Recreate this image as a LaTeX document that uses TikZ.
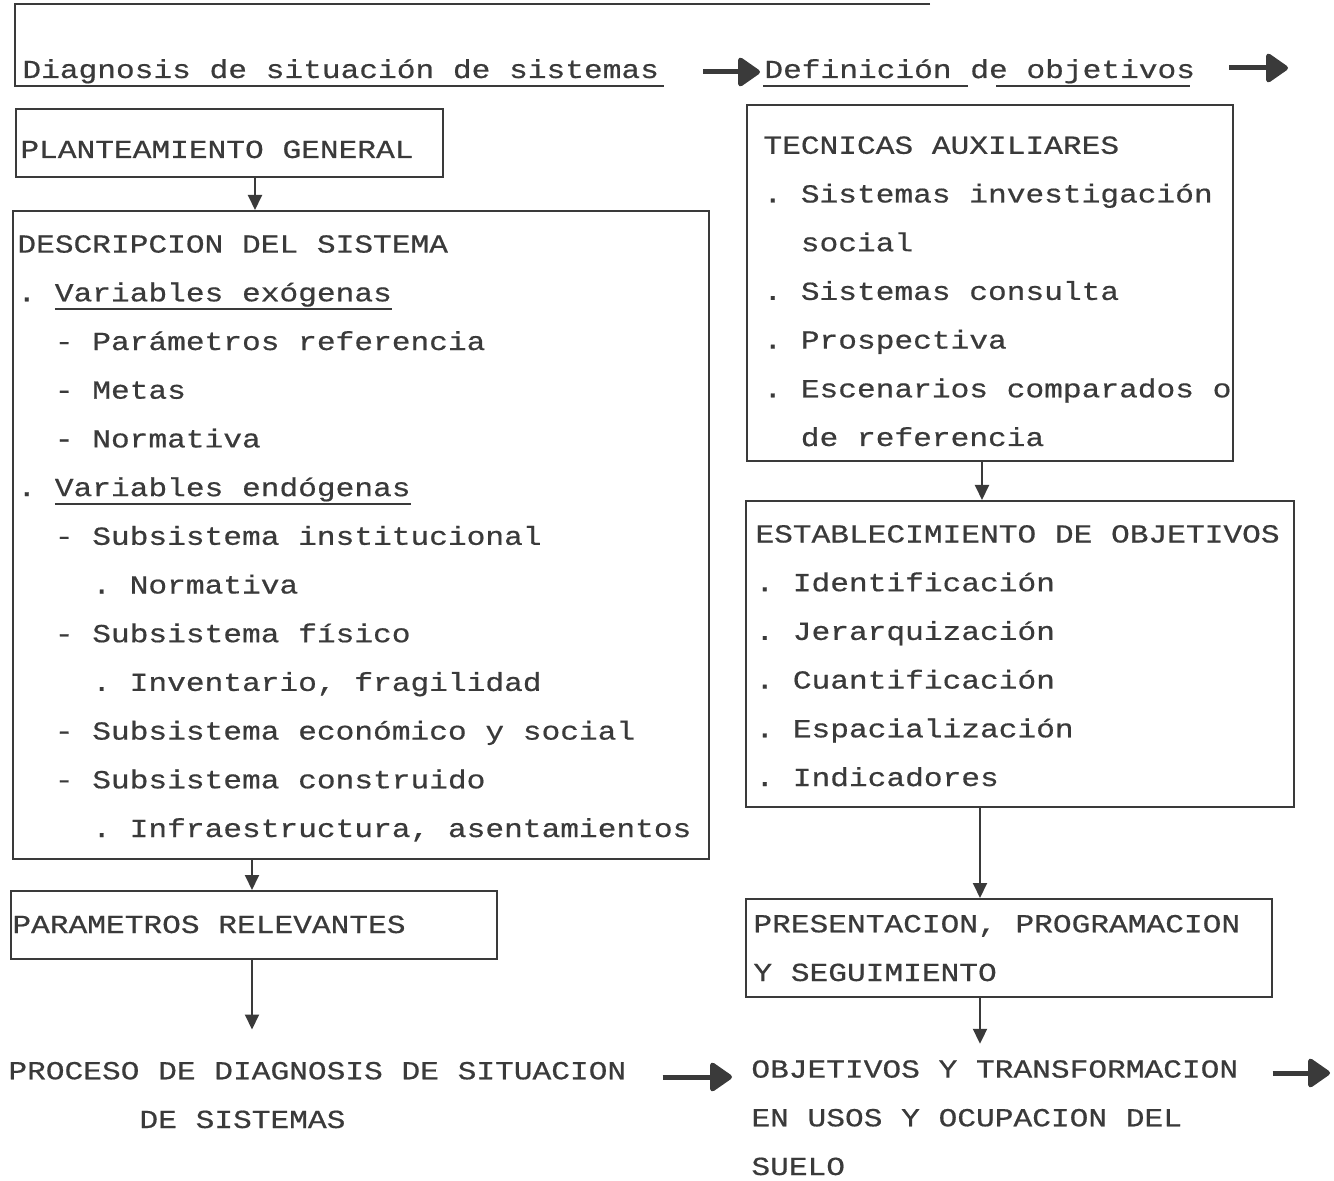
\documentclass[tikz,border=0pt]{standalone}
\usepackage{fontspec}
\setmonofont{Liberation Mono}[FakeStretch=1.2, FakeBold=0.6]
\usetikzlibrary{arrows.meta}
\definecolor{ink}{HTML}{3A3A3A}
\newcommand\maquina{\ttfamily\fontsize{13}{24.35}\selectfont}
\newcommand\subr[1]{\leavevmode\setbox0\hbox{#1}\rlap{\rule[-4.2pt]{\wd0}{0.9pt}}\box0}
\tikzset{
  box/.style={draw=ink, line width=1pt, anchor=north west, inner sep=0pt},
  txt/.style={anchor=base west, align=left, inner sep=0pt, text=ink, font=\maquina},
  arr/.style={draw=ink, line width=1pt, -{Triangle[length=7.5pt,width=7pt]}},
  fat/.style={draw=ink, line width=2.5pt, -{Triangle[length=12pt,width=16pt,round]}},
}

\begin{document}
\begin{tikzpicture}[x=0.5pt, y=-0.5pt]
\useasboundingbox (0,0) rectangle (1334,1181);

% cabecera (base = ultima linea)
\node[txt] (diag) at (22,78) {Diagnosis de situación de sistemas};
\node[txt] (def) at (764,78) {Definición de objetivos};
\draw[ink, line width=1pt] (930,4) -- (15,4) -- (15,86) -- (664,86);
\draw[ink, line width=1pt] (763,86) -- (968,86) (996,86) -- (1190,86);

% columna izquierda
\node[box, minimum width=213.5pt, minimum height=34pt] (plan) at (15,108) {};
\node[txt] (plantxt) at (20,158) {PLANTEAMIENTO GENERAL};
\node[box, minimum width=348pt, minimum height=324pt] (desc) at (12,210) {};
\node[txt] (desctxt) at (17,837) {DESCRIPCION DEL SISTEMA\\
. \subr{Variables exógenas}\\
~~- Parámetros referencia\\
~~- Metas\\
~~- Normativa\\
. \subr{Variables endógenas}\\
~~- Subsistema institucional\\
~~~~. Normativa\\
~~- Subsistema físico\\
~~~~. Inventario, fragilidad\\
~~- Subsistema económico y social\\
~~- Subsistema construido\\
~~~~. Infraestructura, asentamientos};
\node[box, minimum width=243pt, minimum height=34pt] (param) at (10,890) {};
\node[txt] (paramtxt) at (12,933) {PARAMETROS RELEVANTES};
\node[txt] (proc) at (8,1128) {PROCESO DE DIAGNOSIS DE SITUACION\\
~~~~~~~DE SISTEMAS};

% columna derecha
\node[box, minimum width=243pt, minimum height=178pt] (tec) at (746,104) {};
\node[txt] (tectxt) at (763,446) {TECNICAS AUXILIARES\\
. Sistemas investigación\\
~~social\\
. Sistemas consulta\\
. Prospectiva\\
. Escenarios comparados o\\
~~de referencia};
\node[box, minimum width=274pt, minimum height=153pt] (estab) at (745,500) {};
\node[txt] (estabtxt) at (755,786) {ESTABLECIMIENTO DE OBJETIVOS\\
. Identificación\\
. Jerarquización\\
. Cuantificación\\
. Espacialización\\
. Indicadores};
\node[box, minimum width=263pt, minimum height=49pt] (pres) at (745,898) {};
\node[txt] (prestxt) at (753,981) {PRESENTACION, PROGRAMACION\\
Y SEGUIMIENTO};
\node[txt] (obj) at (751,1175) {OBJETIVOS Y TRANSFORMACION\\
EN USOS Y OCUPACION DEL\\
SUELO};

% flechas
\draw[arr] (plan.south -| 255,0) -- (desc.north -| 255,0);
\draw[arr] (desc.south -| 252,0) -- (param.north -| 252,0);
\draw[arr, shorten >=16pt] (param.south -| 252,0) -- (proc.north -| 252,0);
\draw[arr] (tec.south -| 982,0) -- (estab.north -| 982,0);
\draw[arr] (estab.south -| 980,0) -- (pres.north -| 980,0);
\draw[arr, shorten >=8pt] (pres.south -| 980,0) -- (obj.north -| 980,0);

\coordinate (defsig) at (1288,68);
\coordinate (procsig) at ([xshift=18pt,yshift=25.5pt]proc.base east);
\coordinate (objsig) at (1330,1073);
\draw[fat] ([xshift=22pt,yshift=3pt]diag.base east) -- ([xshift=-2pt,yshift=3pt]def.base west);
\draw[fat] ([xshift=17pt]def.base east |- defsig) -- (defsig);
\draw[fat] (procsig) -- ([xshift=-9.5pt]obj.west |- procsig);
\draw[fat] ([xshift=17pt]obj.base east |- objsig) -- (objsig);
\end{tikzpicture}
\end{document}
